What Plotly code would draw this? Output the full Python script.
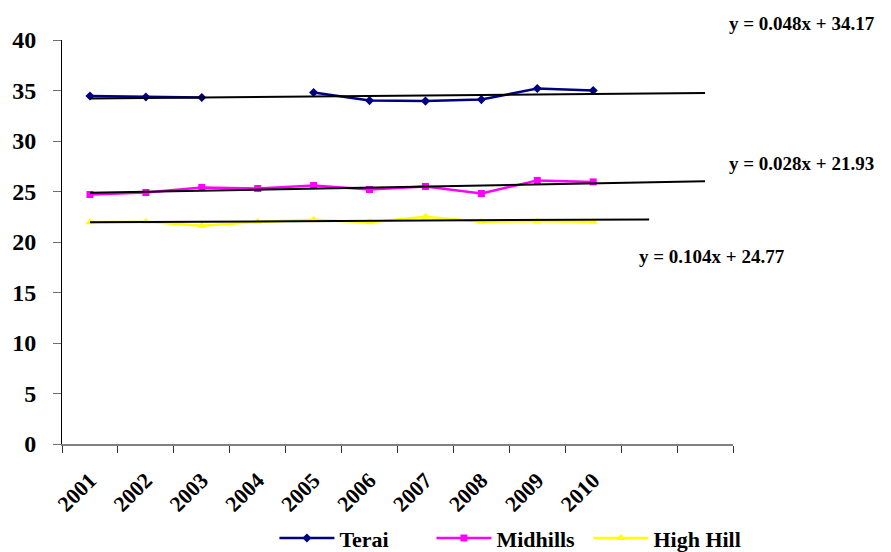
import plotly.graph_objects as go

# Annual values per region (None = no record for that year)
years = [2001, 2002, 2003, 2004, 2005, 2006, 2007, 2008, 2009, 2010]
terai = [34.45, 34.35, 34.3, None, 34.8, 34.0, 33.95, 34.1, 35.2, 35.0]
midhills = [24.7, 24.9, 25.4, 25.3, 25.6, 25.2, 25.5, 24.8, 26.1, 25.95]
high_hill = [21.95, 22.0, 21.6, 22.0, 22.2, 21.95, 22.5, 22.0, 22.05, 22.0]

# Linear trend equations (x = year index, 1 = 2001) and how far each extends
terai_trend = (0.048, 34.17, 12)
midhills_trend = (0.104, 24.77, 12)
high_hill_trend = (0.028, 21.93, 11)

y_ticks = [0, 5, 10, 15, 20, 25, 30, 35, 40]

FONT = "Liberation Serif"
base_year = years[0] - 1


def trend_xy(slope, intercept, last_index):
    xs = [base_year + 1, base_year + last_index]
    ys = [slope * (x - base_year) + intercept for x in xs]
    return xs, ys


fig = go.Figure()

series = [
    ("Terai", terai, "#000080", "diamond", 7),
    ("Midhills", midhills, "#FF00FF", "square", 7),
    ("High Hill", high_hill, "#FFFF00", "triangle-up", 8),
]
for name, vals, color, symbol, size in series:
    fig.add_trace(go.Scatter(
        x=years, y=vals, name=name, mode="lines+markers",
        connectgaps=False,
        line=dict(color=color, width=2.5),
        marker=dict(symbol=symbol, size=size, color=color),
    ))

for slope, intercept, last in (terai_trend, midhills_trend, high_hill_trend):
    tx, ty = trend_xy(slope, intercept, last)
    fig.add_trace(go.Scatter(
        x=tx, y=ty, mode="lines", showlegend=False, hoverinfo="skip",
        line=dict(color="black", width=2),
    ))

equations = [
    (terai_trend, 0.991, 1.042),
    (high_hill_trend, 0.991, 0.6955),
    (midhills_trend, 0.857, 0.463),
]
for (slope, intercept, _), ax, ay in equations:
    fig.add_annotation(
        x=ax, y=ay, xref="paper", yref="paper", xanchor="left", yanchor="middle",
        text=f"y = {slope:.3f}x + {intercept:.2f}", showarrow=False,
        font=dict(family=FONT, size=19, color="black", weight="bold"),
    )

fig.update_layout(
    width=891, height=552,
    margin=dict(l=62, r=158, t=40, b=108, autoexpand=False),
    paper_bgcolor="white", plot_bgcolor="white",
    font=dict(family=FONT, color="black", weight="bold"),
    legend=dict(
        orientation="h", xref="container", yref="container",
        x=0.308, xanchor="left", y=0.025, yanchor="middle",
        font=dict(family=FONT, size=22, color="black", weight="bold"),
        itemwidth=55, entrywidth=87, entrywidthmode="pixels",
    ),
    showlegend=True,
)

fig.update_xaxes(
    range=[base_year + 0.5, base_year + 12.5],
    tickvals=years, ticktext=[str(y) for y in years],
    ticks="", tickangle=-45, ticklabelstandoff=13,
    tickfont=dict(family=FONT, size=22, color="black", weight="bold"),
    showgrid=False, zeroline=False, automargin=False,
    showline=True, linecolor="#808080", linewidth=1.5,
    minor=dict(
        tickvals=[base_year + 0.5 + i for i in range(13)],
        ticks="outside", ticklen=7, tickcolor="#333333", tickwidth=1,
        showgrid=False,
    ),
)

fig.update_yaxes(
    range=[0, 40], tickvals=y_ticks,
    ticks="outside", ticklen=8, tickcolor="#707070", tickwidth=1,
    ticklabelstandoff=12,
    tickfont=dict(family=FONT, size=24, color="black", weight="bold"),
    showgrid=False, zeroline=False, automargin=False,
    showline=True, linecolor="black", linewidth=1,
)

fig.write_html("out.html")
